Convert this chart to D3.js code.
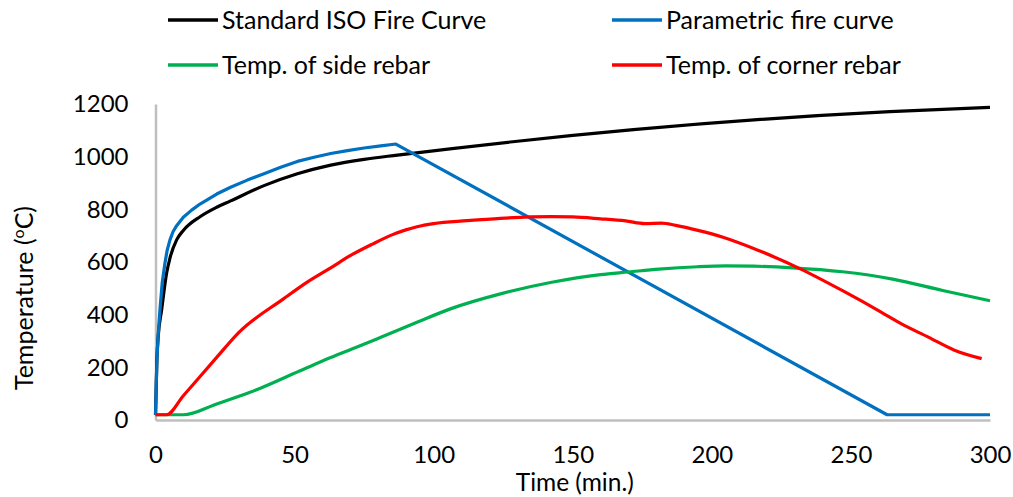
<!DOCTYPE html>
<html>
<head>
<meta charset="utf-8">
<script src="https://cdn.jsdelivr.net/npm/d3@7"></script>
<style>
  body { margin: 0; background: #fff; }
  text { font-family: Lato, "Open Sans", sans-serif; fill: #000; }
</style>
</head>
<body>
<div id="chart"></div>
<script>
// series data (time in min, temperature in degC)
const isoTime = [0, 0.5, 1, 2.2, 4, 5.2, 7.6, 10, 16, 22, 27, 39, 51, 63, 75, 87, 264, 300];
const isoTemp = [20, 230, 320, 418, 558, 615, 684, 720, 772, 808, 832, 890, 935, 968, 990, 1006, 1171, 1187];

const paraTime = [0, 0.5, 1, 1.6, 2.4, 3.4, 4.2, 5.2, 6.3, 7.6, 10, 13, 16, 22, 27, 33, 39, 45, 51, 57, 63, 69, 75, 81, 86.4, 263, 300];
const paraTemp = [20, 230, 330, 418, 520, 596, 645, 684, 715, 738, 770, 797, 820, 858, 884, 911, 935, 960, 982, 998, 1012, 1023, 1033, 1041, 1048, 20, 20];

const sideTime = [0, 10, 22, 34, 52, 63, 72, 81, 94, 106, 124, 142, 160, 170, 181, 195, 205, 215, 229, 247, 265, 283, 300];
const sideTemp = [20, 20, 61, 105, 187, 237, 275, 314, 371, 422, 479, 522, 552, 562, 573, 582, 585, 584, 578, 563, 535, 492, 453];

const cornerTime = [0, 4, 10, 22, 30, 46, 54, 63, 70, 78, 85, 90, 94, 100, 112, 124, 142, 150, 160, 169, 176, 182, 187, 195, 204, 217, 232, 247, 261, 268, 278, 287, 297];
const cornerTemp = [20, 20, 92, 238, 333, 460, 520, 578, 624, 668, 703, 722, 734, 746, 757, 766, 772, 771, 764, 756, 746, 748, 739, 720, 694, 643, 573, 491, 409, 366, 314, 266, 233];

const series = [
  {name: "Standard ISO Fire Curve", t: isoTime, v: isoTemp, color: "#000000", curve: d3.curveMonotoneX},
  {name: "Parametric fire curve", t: paraTime, v: paraTemp, color: "#0070C0", curve: d3.curveLinear},
  {name: "Temp. of side rebar", t: sideTime, v: sideTemp, color: "#00B050", curve: d3.curveMonotoneX},
  {name: "Temp. of corner rebar", t: cornerTime, v: cornerTemp, color: "#FF0000", curve: d3.curveMonotoneX}
];

const xTicks = [0, 50, 100, 150, 200, 250, 300];
const yTicks = [0, 200, 400, 600, 800, 1000, 1200];

const W = 1013, H = 497;
const margin = {top: 104, right: 23, bottom: 77, left: 155.5};

const svg = d3.select("#chart").append("svg")
  .attr("width", W).attr("height", H);

const x = d3.scaleLinear().domain([0, 300]).range([margin.left, W - margin.right]);
const y = d3.scaleLinear().domain([0, 1200]).range([H - margin.bottom, margin.top]);

// axes, no tick marks, grey axis lines
const xAxis = svg.append("g")
  .attr("transform", `translate(0,${y(0)})`)
  .call(d3.axisBottom(x).tickValues(xTicks).tickSize(0).tickPadding(26).tickFormat(d3.format("d")));
const yAxis = svg.append("g")
  .attr("transform", `translate(${x(0)},0)`)
  .call(d3.axisLeft(y).tickValues(yTicks).tickSize(0).tickPadding(27).tickFormat(d3.format("d")));

[xAxis, yAxis].forEach(g => {
  g.select(".domain").attr("stroke", "#bfbfbf").attr("stroke-width", 2.5);
  g.selectAll("text").attr("font-size", 24).attr("font-family", "Lato, sans-serif").attr("fill", "#000");
});

// lines
const line = s => d3.line()
  .x((d, i) => x(s.t[i]))
  .y(d => y(d))
  .curve(s.curve);

svg.append("g").selectAll("path")
  .data(series)
  .join("path")
  .attr("d", s => line(s)(s.v))
  .attr("fill", "none")
  .attr("stroke", s => s.color)
  .attr("stroke-width", 3.2)
  .attr("stroke-linejoin", "round");

// axis titles
svg.append("text")
  .attr("x", (x(0) + x(300)) / 2 + 2)
  .attr("y", 491)
  .attr("text-anchor", "middle")
  .attr("font-size", 24.5)
  .text("Time (min.)");

const yt = svg.append("text")
  .attr("transform", "translate(33,298) rotate(-90)")
  .attr("text-anchor", "middle")
  .attr("font-size", 25);
yt.append("tspan").text("Temperature (");
yt.append("tspan").attr("font-size", 16).attr("dy", -9).text("o");
yt.append("tspan").attr("dy", 9).text("C)");

// legend
const legPos = [[168, 20], [612, 20], [168, 65], [612, 65]];
const leg = svg.append("g").selectAll("g")
  .data(series)
  .join("g")
  .attr("transform", (d, i) => `translate(${legPos[i][0]},${legPos[i][1]})`);
leg.append("line")
  .attr("x1", 0).attr("x2", 50)
  .attr("stroke", d => d.color)
  .attr("stroke-width", 3.5);
leg.append("text")
  .attr("x", 54)
  .attr("dy", "0.35em")
  .attr("font-size", 25)
  .text(d => d.name);
</script>
</body>
</html>
